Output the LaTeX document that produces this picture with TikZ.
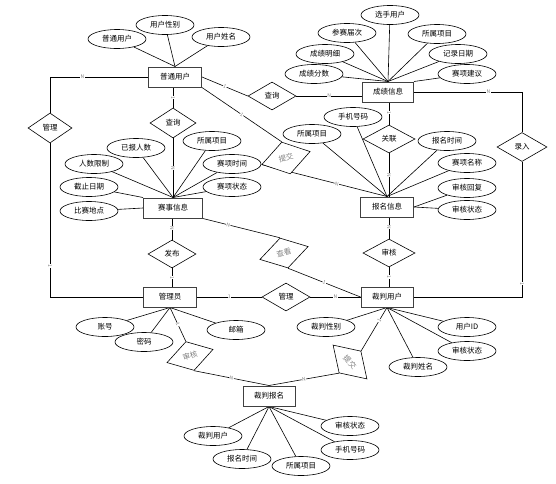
\documentclass[tikz,border=0pt]{standalone}
\usepackage{fontspec}
\setmainfont{Noto Sans CJK SC}
\usetikzlibrary{shapes.geometric,backgrounds}
\begin{document}
\begin{tikzpicture}[x=1pt,y=-1pt,
  ent/.style={draw=black!75,line width=1pt,minimum width=53pt,minimum height=20pt,inner sep=0pt,font=\fontsize{7.5}{8}\selectfont,fill=white},
  attr/.style={ellipse,draw,line width=0.6pt,minimum width=58pt,minimum height=19pt,inner sep=0pt,font=\fontsize{7.5}{8}\selectfont,fill=white},
  rel/.style={diamond,draw,line width=0.6pt,minimum width=48pt,minimum height=29pt,inner sep=0pt,font=\fontsize{7.5}{8}\selectfont,fill=white},
  trel/.style={rel,text=black!50},
  conn/.style={draw,line width=0.6pt},
  card/.style={font=\fontsize{5}{5}\selectfont,text=black!50,fill=white,inner sep=0.4pt,sloped}]
\useasboundingbox (0,0) rectangle (556,483);

% entities
\node[ent] (pt) at (175,77) {普通用户};
\node[ent,minimum width=51pt] (cj) at (388,92) {成绩信息};
\node[ent,minimum width=59pt] (ss) at (173,208) {赛事信息};
\node[ent] (bm) at (387,207) {报名信息};
\node[ent] (gly) at (170,297) {管理员};
\node[ent,minimum width=52pt] (cp) at (387,297) {裁判用户};
\node[ent,minimum width=52pt] (cb) at (269,396) {裁判报名};

% relationships
\node[rel,minimum width=44pt,minimum height=30pt] (dgl1) at (50,128) {管理};
\node[rel,minimum width=46pt,minimum height=30pt] (dcx1) at (173,123) {查询};
\node[rel,minimum height=28pt] (dcx2) at (272,96) {查询};
\node[rel,minimum width=52pt,minimum height=28pt] (dgx) at (389,139) {关联};
\node[rel,minimum width=50pt] (dlr) at (522,147) {录入};
\node[rel,minimum height=28pt] (dfb) at (172,254) {发布};
\node[rel,minimum width=52pt,minimum height=28pt] (dsh) at (389,253) {审核};
\node[rel,minimum height=28pt] (dgl2) at (286,297) {管理};
\node[trel,rotate=15,minimum width=50pt,minimum height=33pt] (dtj1) at (286,158) {提交};
\node[trel,rotate=15,minimum width=50pt,minimum height=31pt] (dck) at (284,253) {查看};
\node[trel,rotate=16,minimum width=48pt,minimum height=30pt] (dsh2) at (190,356) {审核};
\node[trel,rotate=-45,minimum width=48pt,minimum height=31pt] (dtj2) at (350,362) {提交};

% attributes of 普通用户
\node[attr] (p1) at (117,39) {普通用户};
\node[attr] (p2) at (165,25) {用户性别};
\node[attr] (p3) at (221,37) {用户姓名};
% attributes of 成绩信息
\node[attr] (c1) at (390,15) {选手用户};
\node[attr] (c2) at (347,33) {参赛届次};
\node[attr] (c3) at (437,34) {所属项目};
\node[attr] (c4) at (325,54) {成绩明细};
\node[attr] (c5) at (458,54) {记录日期};
\node[attr] (c6) at (314,74) {成绩分数};
\node[attr] (c7) at (467,74) {赛项建议};
% attributes of 赛事信息
\node[attr] (s1) at (136,148) {已报人数};
\node[attr] (s2) at (212,141) {所属项目};
\node[attr] (s3) at (94,164) {人数限制};
\node[attr] (s4) at (232,164) {赛项时间};
\node[attr] (s5) at (89,187) {截止日期};
\node[attr] (s6) at (232,187) {赛项状态};
\node[attr] (s7) at (89,211) {比赛地点};
% attributes of 报名信息
\node[attr] (b1) at (353,117) {手机号码};
\node[attr] (b2) at (312,134) {所属项目};
\node[attr] (b3) at (447,141) {报名时间};
\node[attr] (b4) at (467,163) {赛项名称};
\node[attr] (b5) at (467,188) {审核回复};
\node[attr] (b6) at (467,210) {审核状态};
% attributes of 管理员
\node[attr] (g1) at (105,327) {账号};
\node[attr] (g2) at (144,342) {密码};
\node[attr] (g3) at (236,330) {邮箱};
% attributes of 裁判用户
\node[attr] (r1) at (326,327) {裁判性别};
\node[attr] (r2) at (467,327) {用户ID};
\node[attr] (r3) at (467,351) {审核状态};
\node[attr] (r4) at (418,367) {裁判姓名};
% attributes of 裁判报名
\node[attr] (k1) at (213,436) {裁判用户};
\node[attr] (k2) at (242,459) {报名时间};
\node[attr] (k3) at (301,466) {所属项目};
\node[attr] (k4) at (350,450) {手机号码};
\node[attr] (k5) at (350,426) {审核状态};

\begin{scope}[on background layer]
% attribute lines
\foreach \a in {p1,p2,p3} \draw[conn] (\a) -- (pt.north);
\foreach \a in {c1,c2,c3,c4,c5,c6} \draw[conn] (\a) -- (cj.north);
\draw[conn] (c7) -- (cj.north east);
\foreach \a in {s1,s2,s3,s4,s6} \draw[conn] (\a) -- (ss.north);
\draw[conn] (s5) -- (ss.north west);
\draw[conn] (s7) -- (ss.west);
\foreach \a in {b1,b2,b3,b4} \draw[conn] (\a) -- (bm.north);
\draw[conn] (b5) -- (bm.east);
\draw[conn] (b6) -- (bm.east);
\foreach \a in {g1,g2,g3} \draw[conn] (\a) -- (gly.south);
\foreach \a in {r1,r2,r3,r4} \draw[conn] (\a) -- (cp.south);
\foreach \a in {k1,k2,k3,k4,k5} \draw[conn] (\a) -- (cb.south);

% relationship lines
\draw[conn] (pt.west) -- node[card,pos=0.67]{N} (dgl1.north |- pt.west) -- (dgl1.north);
\draw[conn] (dgl1.south) -- node[card,pos=0.8]{1} (dgl1.south |- gly.west) -- (gly.west);
\draw[conn] (dcx1.north |- pt.south) -- node[card]{1} (dcx1.north);
\draw[conn] (dcx1.south) -- node[card]{N} (dcx1.south |- ss.north);
\draw[conn] (pt.east) -- node[card]{1} (dcx2.west);
\draw[conn] (dcx2.east) -- node[card]{N} (cj.west |- dcx2.east);
\draw[conn] (pt.south east) -- node[card]{1} (dtj1.north);
\draw[conn] (dtj1.west) -- node[card,pos=0.6]{N} (bm.north);
\draw[conn] (dgx.north |- cj.south) -- node[card,pos=0.45]{1} (dgx.north);
\draw[conn] (dgx.south) -- node[card]{N} (dgx.south |- bm.north);
\draw[conn] (cj.east) -- node[card,pos=0.69]{N} (dlr.north |- cj.east) -- (dlr.north);
\draw[conn] (dlr.south) -- node[card,pos=0.9]{1} (dlr.south |- cp.east) -- (cp.east);
\draw[conn] (dfb.north |- ss.south) -- node[card,pos=0.45]{N} (dfb.north);
\draw[conn] (dfb.south) -- node[card]{1} (dfb.south |- gly.north);
\draw[conn] (ss.south east) -- node[card,pos=0.33]{N} (dck.north);
\draw[conn] (dck.south) -- node[card]{1} (cp.west);
\draw[conn] (gly.east) -- node[card]{1} (dgl2.west);
\draw[conn] (dgl2.east) -- node[card]{N} (cp.west);
\draw[conn] (dsh.north |- bm.south) -- node[card,pos=0.45]{N} (dsh.north);
\draw[conn] (dsh.south) -- node[card]{1} (dsh.south |- cp.north);
\draw[conn] (gly.south) -- node[card]{1} (dsh2.north);
\draw[conn] (dsh2.south) -- node[card]{N} (cb.north);
\draw[conn] (cp.south) -- node[card,pos=0.3]{1} (dtj2.north);
\draw[conn] (dtj2.south) -- node[card]{N} (cb.north);
\end{scope}
\end{tikzpicture}
\end{document}
